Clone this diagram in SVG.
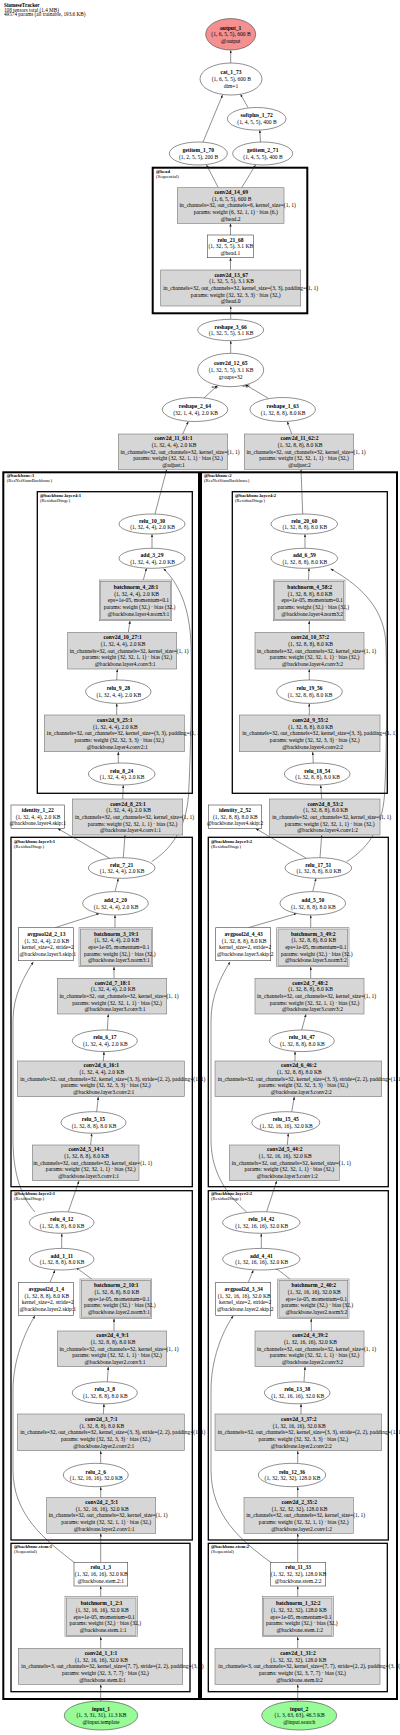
<svg xmlns="http://www.w3.org/2000/svg" width="400" height="1735" viewBox="0 0 400 1735">
<defs>
<marker id="ah" markerWidth="3" markerHeight="2.4" refX="3" refY="1.2" orient="auto" markerUnits="userSpaceOnUse"><path d="M0,0 L3,1.2 L0,2.4 Z" fill="#222"/></marker>
<style>
text{font-family:"Liberation Serif",serif;font-size:5.56px;fill:#000;text-anchor:middle}
.b{font-weight:bold}
.cl{font-size:4.7px;text-anchor:start}
.ttl{font-size:5.2px;text-anchor:start}
.elab{font-size:4px;text-anchor:start}
.c1{fill:none;stroke:#000;stroke-width:2}
.c2{fill:none;stroke:#000;stroke-width:1.3}
.p{fill:#d6d6d6;stroke:#777;stroke-width:0.6}
.po{fill:none;stroke:#777;stroke-width:0.6}
.w{fill:#fff;stroke:#444;stroke-width:0.6}
.ed{fill:none;stroke:#222;stroke-width:0.5;marker-end:url(#ah)}
</style>
</defs>
<rect width="400" height="1735" fill="#fff"/>
<g id="title">
<text class="ttl b" x="4" y="6.8">SiameseTracker</text>
<text class="ttl" x="4" y="11.5">108 tensors total (1.4 MB)</text>
<text class="ttl" x="4" y="16.2">49574 params (all trainable, 193.6 KB)</text>
</g>
<g id="clusters">
<g id="cl_head"><rect class="c1" x="152.7" y="167.7" width="154.6" height="145.6"/><text class="cl b" x="156" y="173.4">@head</text><text class="cl" x="156" y="178.4">(Sequential)</text></g>
<g id="cl_backbone1"><rect class="c1" x="3.3" y="472.3" width="195.7" height="1226.7"/><text class="cl b" x="6.7" y="476.7">@backbone:1</text><text class="cl" x="6.7" y="481.7">(ResNetSiamBackbone)</text></g>
<g id="cl_backbone2"><rect class="c1" x="201" y="472.3" width="196" height="1226.7"/><text class="cl b" x="204" y="476.7">@backbone:2</text><text class="cl" x="204" y="481.7">(ResNetSiamBackbone)</text></g>
<g id="cl_layer4_1"><rect class="c2" x="37.3" y="491.7" width="155" height="301.6"/><text class="cl b" x="40" y="496.7">@backbone.layer4:1</text><text class="cl" x="40" y="501.7">(ResidualStage)</text></g>
<g id="cl_layer4_2"><rect class="c2" x="232.3" y="491.7" width="155" height="301.6"/><text class="cl b" x="235" y="496.7">@backbone.layer4:2</text><text class="cl" x="235" y="501.7">(ResidualStage)</text></g>
<g id="cl_layer3_1"><rect class="c2" x="11" y="837.3" width="181.3" height="349.4"/><text class="cl b" x="14" y="842.7">@backbone.layer3:1</text><text class="cl" x="14" y="847.7">(ResidualStage)</text></g>
<g id="cl_layer3_2"><rect class="c2" x="208.3" y="837.3" width="180" height="349.4"/><text class="cl b" x="211" y="842.7">@backbone.layer3:2</text><text class="cl" x="211" y="847.7">(ResidualStage)</text></g>
<g id="cl_layer2_1"><rect class="c2" x="11" y="1190.7" width="181.3" height="349.3"/><text class="cl b" x="14" y="1195">@backbone.layer2:1</text><text class="cl" x="14" y="1200">(ResidualStage)</text></g>
<g id="cl_layer2_2"><rect class="c2" x="208.3" y="1190.7" width="180" height="349.3"/><text class="cl b" x="211" y="1195">@backbone.layer2:2</text><text class="cl" x="211" y="1200">(ResidualStage)</text></g>
<g id="cl_stem_1"><rect class="c2" x="11" y="1543.3" width="179" height="148.4"/><text class="cl b" x="14" y="1547.7">@backbone.stem:1</text><text class="cl" x="14" y="1552.7">(Sequential)</text></g>
<g id="cl_stem_2"><rect class="c2" x="208.3" y="1543.3" width="179" height="148.4"/><text class="cl b" x="211" y="1547.7">@backbone.stem:2</text><text class="cl" x="211" y="1552.7">(Sequential)</text></g>
</g>
<g id="edges">
<path class="ed" d="M230.7,63 L230.7,50.2"/>
<path class="ed" d="M248,107.6 L240.5,94.2"/>
<path class="ed" d="M203,142.1 L222.5,95"/>
<path class="ed" d="M260.5,142 L259.8,130.2"/>
<path class="ed" d="M218.3,187.7 L206.5,165"/>
<path class="ed" d="M241.7,187.7 L255.5,165"/>
<path class="ed" d="M230.5,235 L230.5,223.5"/>
<path class="ed" d="M230.5,270 L230.5,257.8"/>
<path class="ed" d="M230.7,319.3 L230.7,306.2"/>
<path class="ed" d="M230.7,353.3 L230.7,340.8"/>
<path class="ed" d="M204,398 L217.5,385.5"/>
<path class="ed" d="M268.3,398.3 L245,384.5"/>
<path class="ed" d="M182.7,434 L188.3,421.6"/>
<path class="ed" d="M291.7,434 L287.3,421.6"/>
<path class="ed" d="M155,514 L166.7,469.5"/>
<path class="ed" d="M302.7,514 L301,469.5"/>
<path class="ed" d="M152,548.3 L152,534.2"/>
<path class="ed" d="M305,548.3 L305,534.2"/>
<path class="ed" d="M143.3,580 L146.5,568.3"/>
<path class="ed" d="M308.5,580 L309,568.3"/>
<path class="ed" d="M151.7,861.5 C170,850 186,830 188.5,795 C191,750 192,680 191,645 C190,615 183,588 163.5,568.6"/>
<path class="ed" d="M346.7,861.5 C366,850 382,830 384.5,795 C387,750 387,680 386,645 C385,612 365,588 330.5,568.8"/>
<path class="ed" d="M116.7,680 L117.3,669.2"/>
<path class="ed" d="M128.3,632.3 L130,620.9"/>
<path class="ed" d="M116.7,715 L116.7,703.5"/>
<path class="ed" d="M118.3,763 L118.3,751.9"/>
<path class="ed" d="M122.7,799 L123.3,785.2"/>
<path class="ed" d="M123.3,857.7 L125,835.2"/>
<path class="ed" d="M110,858.5 L57.7,828.5"/>
<path class="ed" d="M115,891.6 L118.3,878.5"/>
<path class="ed" d="M115,927.7 L115,915.2"/>
<path class="ed" d="M55,927.7 L99.3,913.5"/>
<path class="ed" d="M114,978.3 L114,966.9"/>
<path class="ed" d="M107.3,1030 L108.3,1014.2"/>
<path class="ed" d="M103.3,1061 L104,1051.8"/>
<path class="ed" d="M96.7,1111.7 L98.3,1096.9"/>
<path class="ed" d="M90.7,1145 L91.7,1133.5"/>
<path class="ed" d="M68.3,1211.7 L79,1180.9"/>
<path class="ed" d="M35,1212 C22,1198 13,1175 13,1140 L13,1020 C13,995 25,975 33.3,961.9"/>
<path class="ed" d="M61.7,1248.4 L61.7,1233.5"/>
<path class="ed" d="M50,1282.5 L55,1270.2"/>
<path class="ed" d="M91.7,1279 L76,1267.5"/>
<path class="ed" d="M114,1331 L114,1318.7"/>
<path class="ed" d="M107.3,1381.8 L108.3,1366.9"/>
<path class="ed" d="M103.3,1414 L104,1404"/>
<path class="ed" d="M100.7,1463.3 L100.7,1450.9"/>
<path class="ed" d="M100.7,1497.7 L100.7,1486.9"/>
<path class="ed" d="M100.7,1562.3 L100.7,1533.5"/>
<path class="ed" d="M75,1563 C45,1540 13,1515 13,1470 L13,1390 C13,1360 25,1332 35,1315.7"/>
<path class="ed" d="M100.7,1596.7 L100.7,1586.2"/>
<path class="ed" d="M100.7,1648.3 L100.7,1636.9"/>
<path class="ed" d="M100.7,1701 L100.7,1684.5"/>
<path class="ed" d="M309.3,680 L309.3,669.2"/>
<path class="ed" d="M309.3,632.3 L309.3,620.9"/>
<path class="ed" d="M309.3,715 L309.3,703.5"/>
<path class="ed" d="M313.3,763 L312.7,751.9"/>
<path class="ed" d="M321.7,799 L320.7,785.2"/>
<path class="ed" d="M320,857.7 L321.7,835.2"/>
<path class="ed" d="M306.7,858.5 L255.7,828.5"/>
<path class="ed" d="M312.7,891.6 L316,878.5"/>
<path class="ed" d="M310.7,927.7 L310.7,915.2"/>
<path class="ed" d="M248.3,927.7 L296.7,913.5"/>
<path class="ed" d="M310.7,978.3 L310.7,966.9"/>
<path class="ed" d="M301.7,1030 L306,1014.2"/>
<path class="ed" d="M295,1061 L295,1051.6"/>
<path class="ed" d="M291.7,1111.7 L294.3,1096.9"/>
<path class="ed" d="M287.3,1145 L288.3,1133.5"/>
<path class="ed" d="M266.7,1211.7 L276.7,1180.9"/>
<path class="ed" d="M246.7,1212 C230,1198 211,1175 211,1140 L211,1020 C211,995 222,975 230,961.9"/>
<path class="ed" d="M261.3,1248.4 L261.3,1233.5"/>
<path class="ed" d="M248.3,1282.5 L253.3,1270.2"/>
<path class="ed" d="M290,1279 L275,1267.5"/>
<path class="ed" d="M311.3,1331 L311.3,1318.7"/>
<path class="ed" d="M304,1381.8 L305,1366.9"/>
<path class="ed" d="M301,1414 L301,1404"/>
<path class="ed" d="M297.7,1463.3 L297.7,1450.9"/>
<path class="ed" d="M297.7,1497.7 L297.7,1486.9"/>
<path class="ed" d="M297.7,1562.3 L297.7,1533.5"/>
<path class="ed" d="M271.7,1563 C240,1540 211,1515 211,1470 L211,1390 C211,1360 222,1332 233.3,1315.7"/>
<path class="ed" d="M297.7,1596.7 L297.7,1586.2"/>
<path class="ed" d="M297.7,1648.3 L297.7,1636.9"/>
<path class="ed" d="M297.7,1701 L297.7,1684.5"/>
<text class="elab" x="211.5" y="388">arg1</text>
<text class="elab" x="242.5" y="386.5">arg0</text>
</g>
<g id="nodes">
<g id="output_1"><ellipse cx="230.7" cy="34.3" rx="25" ry="15.7" fill="#f49090" stroke="#444" stroke-width="0.6"/><text y="29.5"><tspan class="b" x="230.7">output_1</tspan><tspan x="231" dy="6.67">(1, 6, 5, 5), 600 B</tspan><tspan x="230.7" dy="6.67">@output</tspan></text></g>
<g id="cat_1_73"><ellipse class="w" cx="231" cy="79" rx="31" ry="16"/><text y="74.2"><tspan class="b" x="231">cat_1_73</tspan><tspan x="231.3" dy="6.67">(1, 6, 5, 5), 600 B</tspan><tspan x="231" dy="6.67">dim=1</tspan></text></g>
<g id="softplus_1_72"><ellipse class="w" cx="256.7" cy="118.8" rx="29.3" ry="11.3"/><text y="117.4"><tspan class="b" x="256.7">softplus_1_72</tspan><tspan x="257" dy="6.67">(1, 4, 5, 5), 400 B</tspan></text></g>
<g id="getitem_1_70"><ellipse class="w" cx="198.3" cy="153.5" rx="29" ry="11.5"/><text y="152.1"><tspan class="b" x="198.3">getitem_1_70</tspan><tspan x="198.6" dy="6.67">(1, 2, 5, 5), 200 B</tspan></text></g>
<g id="getitem_2_71"><ellipse class="w" cx="262.7" cy="153.5" rx="30" ry="11.5"/><text y="152.1"><tspan class="b" x="262.7">getitem_2_71</tspan><tspan x="263" dy="6.67">(1, 4, 5, 5), 400 B</tspan></text></g>
<g id="conv2d_14_69"><rect class="p" x="177.3" y="187.7" width="106.7" height="35.6"/><text y="194.1"><tspan class="b" x="231.2">conv2d_14_69</tspan><tspan x="231.7" dy="6.67">(1, 6, 5, 5), 600 B</tspan><tspan x="237.7" dy="6.67">in_channels=32, out_channels=6, kernel_size=(1, 1)</tspan><tspan x="235.7" dy="6.67">params: weight (6, 32, 1, 1) · bias (6,)</tspan><tspan x="230.7" dy="6.67">@head.2</tspan></text></g>
<g id="relu_21_68"><rect class="w" x="207.3" y="235" width="46" height="22.7"/><text y="241.5"><tspan class="b" x="230.5">relu_21_68</tspan><tspan x="230.8" dy="6.67">(1, 32, 5, 5), 3.1 KB</tspan><tspan x="230.3" dy="6.67">@head.1</tspan></text></g>
<g id="conv2d_13_67"><rect class="p" x="160.7" y="270" width="140" height="36"/><text y="276.6"><tspan class="b" x="231.2">conv2d_13_67</tspan><tspan x="231.7" dy="6.67">(1, 32, 5, 5), 3.1 KB</tspan><tspan x="240.7" dy="6.67">in_channels=32, out_channels=32, kernel_size=(3, 3), padding=(1, 1)</tspan><tspan x="235.7" dy="6.67">params: weight (32, 32, 3, 3) · bias (32,)</tspan><tspan x="230.7" dy="6.67">@head.0</tspan></text></g>
<g id="reshape_3_66"><ellipse class="w" cx="230.7" cy="330" rx="33" ry="10.7"/><text y="328.6"><tspan class="b" x="230.7">reshape_3_66</tspan><tspan x="231" dy="6.67">(1, 32, 5, 5), 3.1 KB</tspan></text></g>
<g id="conv2d_12_65"><ellipse class="w" cx="230.7" cy="370" rx="33" ry="16.7"/><text y="365.2"><tspan class="b" x="230.7">conv2d_12_65</tspan><tspan x="231" dy="6.67">(1, 32, 5, 5), 3.1 KB</tspan><tspan x="230.7" dy="6.67">groups=32</tspan></text></g>
<g id="reshape_2_64"><ellipse class="w" cx="195" cy="409.5" rx="32.7" ry="12"/><text y="408.1"><tspan class="b" x="195">reshape_2_64</tspan><tspan x="195.5" dy="6.67">(32, 1, 4, 4), 2.0 KB</tspan></text></g>
<g id="reshape_1_63"><ellipse class="w" cx="282.7" cy="409.5" rx="32.7" ry="12"/><text y="408.1"><tspan class="b" x="282.7">reshape_1_63</tspan><tspan x="283.2" dy="6.67">(1, 32, 8, 8), 8.0 KB</tspan></text></g>
<g id="conv2d_11_61_1"><rect class="p" x="118.3" y="434" width="109.4" height="35.3"/><text y="440.3"><tspan class="b" x="173.5">conv2d_11_61:1</tspan><tspan x="174" dy="6.67">(1, 32, 4, 4), 2.0 KB</tspan><tspan x="180" dy="6.67">in_channels=32, out_channels=32, kernel_size=(1, 1)</tspan><tspan x="178" dy="6.67">params: weight (32, 32, 1, 1) · bias (32,)</tspan><tspan x="173.5" dy="6.67">@adjust:1</tspan></text></g>
<g id="conv2d_11_62_2"><rect class="p" x="244.3" y="434" width="109.4" height="35.3"/><text y="440.3"><tspan class="b" x="299.5">conv2d_11_62:2</tspan><tspan x="300" dy="6.67">(1, 32, 8, 8), 8.0 KB</tspan><tspan x="306" dy="6.67">in_channels=32, out_channels=32, kernel_size=(1, 1)</tspan><tspan x="304" dy="6.67">params: weight (32, 32, 1, 1) · bias (32,)</tspan><tspan x="299.5" dy="6.67">@adjust:2</tspan></text></g>

<g id="relu_10_30"><ellipse class="w" cx="152" cy="524" rx="33" ry="10"/><text y="522.6"><tspan class="b" x="152">relu_10_30</tspan><tspan x="152.5" dy="6.67">(1, 32, 4, 4), 2.0 KB</tspan></text></g>
<g id="add_3_29"><ellipse class="w" cx="152" cy="558.3" rx="33" ry="10"/><text y="556.9"><tspan class="b" x="152">add_3_29</tspan><tspan x="152.5" dy="6.67">(1, 32, 4, 4), 2.0 KB</tspan></text></g>
<g id="batchnorm_4_28_1"><rect class="po" x="99.3" y="580" width="72.4" height="40.7"/><rect class="p" x="100.6" y="581.3" width="69.8" height="38.1"/><text y="588.9"><tspan class="b" x="136">batchnorm_4_28:1</tspan><tspan x="136.5" dy="6.67">(1, 32, 4, 4), 2.0 KB</tspan><tspan x="138.5" dy="6.67">eps=1e-05, momentum=0.1</tspan><tspan x="139.5" dy="6.67">params: weight (32,) · bias (32,)</tspan><tspan x="138.5" dy="6.67">@backbone.layer4.norm3:1</tspan></text></g>
<g id="conv2d_10_27_1"><rect class="p" x="67.7" y="632.3" width="109" height="36.7"/><text y="639.3"><tspan class="b" x="122.7">conv2d_10_27:1</tspan><tspan x="123.2" dy="6.67">(1, 32, 4, 4), 2.0 KB</tspan><tspan x="129.2" dy="6.67">in_channels=32, out_channels=32, kernel_size=(1, 1)</tspan><tspan x="127.2" dy="6.67">params: weight (32, 32, 1, 1) · bias (32,)</tspan><tspan x="125.2" dy="6.67">@backbone.layer4.conv3:1</tspan></text></g>
<g id="relu_9_28"><ellipse class="w" cx="118.3" cy="691.7" rx="32.7" ry="11.7"/><text y="690.3"><tspan class="b" x="118.3">relu_9_28</tspan><tspan x="118.8" dy="6.67">(1, 32, 4, 4), 2.0 KB</tspan></text></g>
<g id="conv2d_9_25_1"><rect class="p" x="44.3" y="715" width="140" height="36.7"/><text y="721.9"><tspan class="b" x="114.8">conv2d_9_25:1</tspan><tspan x="115.3" dy="6.67">(1, 32, 4, 4), 2.0 KB</tspan><tspan x="124.3" dy="6.67">in_channels=32, out_channels=32, kernel_size=(3, 3), padding=(1, 1)</tspan><tspan x="119.3" dy="6.67">params: weight (32, 32, 3, 3) · bias (32,)</tspan><tspan x="117.3" dy="6.67">@backbone.layer4.conv2:1</tspan></text></g>
<g id="relu_8_24"><ellipse class="w" cx="121.7" cy="774" rx="33.3" ry="11"/><text y="772.6"><tspan class="b" x="121.7">relu_8_24</tspan><tspan x="122.2" dy="6.67">(1, 32, 4, 4), 2.0 KB</tspan></text></g>
<g id="conv2d_8_23_1"><rect class="p" x="72.3" y="799" width="110.4" height="36"/><text y="805.6"><tspan class="b" x="128">conv2d_8_23:1</tspan><tspan x="128.5" dy="6.67">(1, 32, 4, 4), 2.0 KB</tspan><tspan x="134.5" dy="6.67">in_channels=32, out_channels=32, kernel_size=(1, 1)</tspan><tspan x="132.5" dy="6.67">params: weight (32, 32, 1, 1) · bias (32,)</tspan><tspan x="130.5" dy="6.67">@backbone.layer4.conv1:1</tspan></text></g>
<g id="identity_1_22"><rect class="w" x="11" y="805" width="53.3" height="23.3"/><text y="811.9"><tspan class="b" x="37.7">identity_1_22</tspan><tspan x="38" dy="6.67">(1, 32, 4, 4), 2.0 KB</tspan><tspan x="37.7" dy="6.67">@backbone.layer4.skip:1</tspan></text></g>

<g id="relu_7_21"><ellipse class="w" cx="121.7" cy="868" rx="33.3" ry="10.3"/><text y="866.6"><tspan class="b" x="121.7">relu_7_21</tspan><tspan x="122.2" dy="6.67">(1, 32, 4, 4), 2.0 KB</tspan></text></g>
<g id="add_2_20"><ellipse class="w" cx="115.5" cy="903.3" rx="32.8" ry="11.7"/><text y="901.9"><tspan class="b" x="115.5">add_2_20</tspan><tspan x="116" dy="6.67">(1, 32, 4, 4), 2.0 KB</tspan></text></g>
<g id="avgpool2d_2_13"><rect class="w" x="18.3" y="927.7" width="55" height="33"/><text y="936.1"><tspan class="b" x="46.3">avgpool2d_2_13</tspan><tspan x="46.8" dy="6.67">(1, 32, 4, 4), 2.0 KB</tspan><tspan x="47.8" dy="6.67">kernel_size=2, stride=2</tspan><tspan x="47.8" dy="6.67">@backbone.layer3.skip:1</tspan></text></g>
<g id="batchnorm_3_19_1"><rect class="po" x="79" y="927.7" width="73.7" height="39"/><rect class="p" x="80.3" y="929" width="71.1" height="36.4"/><text y="935.8"><tspan class="b" x="116.3">batchnorm_3_19:1</tspan><tspan x="116.8" dy="6.67">(1, 32, 4, 4), 2.0 KB</tspan><tspan x="118.8" dy="6.67">eps=1e-05, momentum=0.1</tspan><tspan x="119.8" dy="6.67">params: weight (32,) · bias (32,)</tspan><tspan x="118.8" dy="6.67">@backbone.layer3.norm3:1</tspan></text></g>
<g id="conv2d_7_18_1"><rect class="p" x="57.3" y="978.3" width="109.4" height="35.7"/><text y="984.8"><tspan class="b" x="112.5">conv2d_7_18:1</tspan><tspan x="113" dy="6.67">(1, 32, 4, 4), 2.0 KB</tspan><tspan x="119" dy="6.67">in_channels=32, out_channels=32, kernel_size=(1, 1)</tspan><tspan x="117" dy="6.67">params: weight (32, 32, 1, 1) · bias (32,)</tspan><tspan x="115" dy="6.67">@backbone.layer3.conv3:1</tspan></text></g>
<g id="relu_6_17"><ellipse class="w" cx="104.8" cy="1040.8" rx="32.5" ry="10.8"/><text y="1039.4"><tspan class="b" x="104.8">relu_6_17</tspan><tspan x="105.3" dy="6.67">(1, 32, 4, 4), 2.0 KB</tspan></text></g>
<g id="conv2d_6_16_1"><rect class="p" x="17.3" y="1061" width="167" height="35.7"/><text y="1067.4"><tspan class="b" x="101.3">conv2d_6_16:1</tspan><tspan x="101.8" dy="6.67">(1, 32, 4, 4), 2.0 KB</tspan><tspan x="112.8" dy="6.67">in_channels=32, out_channels=32, kernel_size=(3, 3), stride=(2, 2), padding=(1, 1)</tspan><tspan x="105.8" dy="6.67">params: weight (32, 32, 3, 3) · bias (32,)</tspan><tspan x="103.8" dy="6.67">@backbone.layer3.conv2:1</tspan></text></g>
<g id="relu_5_15"><ellipse class="w" cx="93.5" cy="1122.5" rx="32.5" ry="10.8"/><text y="1121.1"><tspan class="b" x="93.5">relu_5_15</tspan><tspan x="94" dy="6.67">(1, 32, 8, 8), 8.0 KB</tspan></text></g>
<g id="conv2d_5_14_1"><rect class="p" x="32.3" y="1145" width="106.7" height="35.7"/><text y="1151.4"><tspan class="b" x="86.2">conv2d_5_14:1</tspan><tspan x="86.7" dy="6.67">(1, 32, 8, 8), 8.0 KB</tspan><tspan x="92.7" dy="6.67">in_channels=32, out_channels=32, kernel_size=(1, 1)</tspan><tspan x="90.7" dy="6.67">params: weight (32, 32, 1, 1) · bias (32,)</tspan><tspan x="88.7" dy="6.67">@backbone.layer3.conv1:1</tspan></text></g>

<g id="relu_4_12"><ellipse class="w" cx="61.7" cy="1222.5" rx="32.3" ry="10.8"/><text y="1221.1"><tspan class="b" x="61.7">relu_4_12</tspan><tspan x="62.2" dy="6.67">(1, 32, 8, 8), 8.0 KB</tspan></text></g>
<g id="add_1_11"><ellipse class="w" cx="61.7" cy="1259.2" rx="32.3" ry="10.8"/><text y="1257.8"><tspan class="b" x="61.7">add_1_11</tspan><tspan x="62.2" dy="6.67">(1, 32, 8, 8), 8.0 KB</tspan></text></g>
<g id="avgpool2d_1_4"><rect class="w" x="18.3" y="1282.5" width="55" height="33"/><text y="1290.9"><tspan class="b" x="46.3">avgpool2d_1_4</tspan><tspan x="46.8" dy="6.67">(1, 32, 8, 8), 8.0 KB</tspan><tspan x="47.8" dy="6.67">kernel_size=2, stride=2</tspan><tspan x="47.8" dy="6.67">@backbone.layer2.skip:1</tspan></text></g>
<g id="batchnorm_2_10_1"><rect class="po" x="80" y="1279" width="71.7" height="39.5"/><rect class="p" x="81.3" y="1280.3" width="69.1" height="36.9"/><text y="1287.3"><tspan class="b" x="116.3">batchnorm_2_10:1</tspan><tspan x="116.8" dy="6.67">(1, 32, 8, 8), 8.0 KB</tspan><tspan x="118.8" dy="6.67">eps=1e-05, momentum=0.1</tspan><tspan x="119.8" dy="6.67">params: weight (32,) · bias (32,)</tspan><tspan x="118.8" dy="6.67">@backbone.layer2.norm3:1</tspan></text></g>
<g id="conv2d_4_9_1"><rect class="p" x="57.3" y="1331" width="109.4" height="35.7"/><text y="1337.4"><tspan class="b" x="112.5">conv2d_4_9:1</tspan><tspan x="113" dy="6.67">(1, 32, 8, 8), 8.0 KB</tspan><tspan x="119" dy="6.67">in_channels=32, out_channels=32, kernel_size=(1, 1)</tspan><tspan x="117" dy="6.67">params: weight (32, 32, 1, 1) · bias (32,)</tspan><tspan x="115" dy="6.67">@backbone.layer2.conv3:1</tspan></text></g>
<g id="relu_3_8"><ellipse class="w" cx="104.8" cy="1392.8" rx="32.5" ry="11"/><text y="1391.4"><tspan class="b" x="104.8">relu_3_8</tspan><tspan x="105.3" dy="6.67">(1, 32, 8, 8), 8.0 KB</tspan></text></g>
<g id="conv2d_3_7_1"><rect class="p" x="17.3" y="1414" width="167" height="36.7"/><text y="1420.9"><tspan class="b" x="101.3">conv2d_3_7:1</tspan><tspan x="101.8" dy="6.67">(1, 32, 8, 8), 8.0 KB</tspan><tspan x="112.8" dy="6.67">in_channels=32, out_channels=32, kernel_size=(3, 3), stride=(2, 2), padding=(1, 1)</tspan><tspan x="105.8" dy="6.67">params: weight (32, 32, 3, 3) · bias (32,)</tspan><tspan x="103.8" dy="6.67">@backbone.layer2.conv2:1</tspan></text></g>
<g id="relu_2_6"><ellipse class="w" cx="95.8" cy="1475" rx="32.5" ry="11.7"/><text y="1473.6"><tspan class="b" x="95.8">relu_2_6</tspan><tspan x="96.3" dy="6.67">(1, 32, 16, 16), 32.0 KB</tspan></text></g>
<g id="conv2d_2_5_1"><rect class="p" x="46.7" y="1497.7" width="109" height="35.6"/><text y="1504.1"><tspan class="b" x="101.7">conv2d_2_5:1</tspan><tspan x="102.2" dy="6.67">(1, 32, 16, 16), 32.0 KB</tspan><tspan x="108.2" dy="6.67">in_channels=32, out_channels=32, kernel_size=(1, 1)</tspan><tspan x="106.2" dy="6.67">params: weight (32, 32, 1, 1) · bias (32,)</tspan><tspan x="104.2" dy="6.67">@backbone.layer2.conv1:1</tspan></text></g>
<g id="relu_1_3"><rect class="w" x="74" y="1562.3" width="53.7" height="23.7"/><text y="1569.4"><tspan class="b" x="100.8">relu_1_3</tspan><tspan x="101.3" dy="6.67">(1, 32, 16, 16), 32.0 KB</tspan><tspan x="100.8" dy="6.67">@backbone.stem.2:1</tspan></text></g>
<g id="batchnorm_1_2_1"><rect class="po" x="65" y="1596.7" width="72.3" height="40"/><rect class="p" x="66.3" y="1598" width="69.7" height="37.4"/><text y="1605.3"><tspan class="b" x="101.7">batchnorm_1_2:1</tspan><tspan x="102.2" dy="6.67">(1, 32, 16, 16), 32.0 KB</tspan><tspan x="104.2" dy="6.67">eps=1e-05, momentum=0.1</tspan><tspan x="105.2" dy="6.67">params: weight (32,) · bias (32,)</tspan><tspan x="103.2" dy="6.67">@backbone.stem.1:1</tspan></text></g>
<g id="conv2d_1_1_1"><rect class="p" x="18.3" y="1648.3" width="164.4" height="36"/><text y="1654.9"><tspan class="b" x="101">conv2d_1_1:1</tspan><tspan x="101.5" dy="6.67">(1, 32, 16, 16), 32.0 KB</tspan><tspan x="112.5" dy="6.67">in_channels=3, out_channels=32, kernel_size=(7, 7), stride=(2, 2), padding=(3, 3)</tspan><tspan x="105.5" dy="6.67">params: weight (32, 3, 7, 7) · bias (32,)</tspan><tspan x="102.5" dy="6.67">@backbone.stem.0:1</tspan></text></g>
<g id="input_1"><ellipse cx="101" cy="1715.5" rx="36.7" ry="14.5" fill="#98fb98" stroke="#444" stroke-width="0.6"/><text y="1710.7"><tspan class="b" x="101">input_1</tspan><tspan x="101.5" dy="6.67">(1, 3, 31, 31), 11.3 KB</tspan><tspan x="101" dy="6.67">@input.template</tspan></text></g>

<g id="relu_20_60"><ellipse class="w" cx="304.3" cy="524" rx="33.3" ry="10"/><text y="522.6"><tspan class="b" x="304.3">relu_20_60</tspan><tspan x="304.8" dy="6.67">(1, 32, 8, 8), 8.0 KB</tspan></text></g>
<g id="add_6_59"><ellipse class="w" cx="304.3" cy="558.3" rx="33.3" ry="10"/><text y="556.9"><tspan class="b" x="304.3">add_6_59</tspan><tspan x="304.8" dy="6.67">(1, 32, 8, 8), 8.0 KB</tspan></text></g>
<g id="batchnorm_4_58_2"><rect class="po" x="273.3" y="580" width="71.7" height="40.7"/><rect class="p" x="274.6" y="581.3" width="69.1" height="38.1"/><text y="588.9"><tspan class="b" x="309.7">batchnorm_4_58:2</tspan><tspan x="310.2" dy="6.67">(1, 32, 8, 8), 8.0 KB</tspan><tspan x="312.2" dy="6.67">eps=1e-05, momentum=0.1</tspan><tspan x="313.2" dy="6.67">params: weight (32,) · bias (32,)</tspan><tspan x="312.2" dy="6.67">@backbone.layer4.norm3:2</tspan></text></g>
<g id="conv2d_10_57_2"><rect class="p" x="255" y="632.3" width="109" height="36.7"/><text y="639.3"><tspan class="b" x="310">conv2d_10_57:2</tspan><tspan x="310.5" dy="6.67">(1, 32, 8, 8), 8.0 KB</tspan><tspan x="316.5" dy="6.67">in_channels=32, out_channels=32, kernel_size=(1, 1)</tspan><tspan x="314.5" dy="6.67">params: weight (32, 32, 1, 1) · bias (32,)</tspan><tspan x="312.5" dy="6.67">@backbone.layer4.conv3:2</tspan></text></g>
<g id="relu_19_56"><ellipse class="w" cx="309.5" cy="691.7" rx="32.8" ry="11.7"/><text y="690.3"><tspan class="b" x="309.5">relu_19_56</tspan><tspan x="310" dy="6.67">(1, 32, 8, 8), 8.0 KB</tspan></text></g>
<g id="conv2d_9_55_2"><rect class="p" x="239.3" y="715" width="140.7" height="36.7"/><text y="721.9"><tspan class="b" x="310.2">conv2d_9_55:2</tspan><tspan x="310.7" dy="6.67">(1, 32, 8, 8), 8.0 KB</tspan><tspan x="319.7" dy="6.67">in_channels=32, out_channels=32, kernel_size=(3, 3), padding=(1, 1)</tspan><tspan x="314.7" dy="6.67">params: weight (32, 32, 3, 3) · bias (32,)</tspan><tspan x="312.7" dy="6.67">@backbone.layer4.conv2:2</tspan></text></g>
<g id="relu_18_54"><ellipse class="w" cx="317.2" cy="774" rx="32.8" ry="11"/><text y="772.6"><tspan class="b" x="317.2">relu_18_54</tspan><tspan x="317.7" dy="6.67">(1, 32, 8, 8), 8.0 KB</tspan></text></g>
<g id="conv2d_8_53_2"><rect class="p" x="269.3" y="799" width="110.7" height="36"/><text y="805.6"><tspan class="b" x="325.2">conv2d_8_53:2</tspan><tspan x="325.7" dy="6.67">(1, 32, 8, 8), 8.0 KB</tspan><tspan x="331.7" dy="6.67">in_channels=32, out_channels=32, kernel_size=(1, 1)</tspan><tspan x="329.7" dy="6.67">params: weight (32, 32, 1, 1) · bias (32,)</tspan><tspan x="327.7" dy="6.67">@backbone.layer4.conv1:2</tspan></text></g>
<g id="identity_2_52"><rect class="w" x="208.3" y="805" width="53.4" height="23.3"/><text y="811.9"><tspan class="b" x="235">identity_2_52</tspan><tspan x="235.3" dy="6.67">(1, 32, 8, 8), 8.0 KB</tspan><tspan x="235" dy="6.67">@backbone.layer4.skip:2</tspan></text></g>

<g id="relu_17_51"><ellipse class="w" cx="318.3" cy="868" rx="33.3" ry="10.3"/><text y="866.6"><tspan class="b" x="318.3">relu_17_51</tspan><tspan x="318.8" dy="6.67">(1, 32, 8, 8), 8.0 KB</tspan></text></g>
<g id="add_5_50"><ellipse class="w" cx="312.8" cy="903.3" rx="32.8" ry="11.7"/><text y="901.9"><tspan class="b" x="312.8">add_5_50</tspan><tspan x="313.3" dy="6.67">(1, 32, 8, 8), 8.0 KB</tspan></text></g>
<g id="avgpool2d_4_43"><rect class="w" x="215.7" y="927.7" width="55" height="33"/><text y="936.1"><tspan class="b" x="243.7">avgpool2d_4_43</tspan><tspan x="244.2" dy="6.67">(1, 32, 8, 8), 8.0 KB</tspan><tspan x="245.2" dy="6.67">kernel_size=2, stride=2</tspan><tspan x="245.2" dy="6.67">@backbone.layer3.skip:2</tspan></text></g>
<g id="batchnorm_3_49_2"><rect class="po" x="276.7" y="927.7" width="72.3" height="39"/><rect class="p" x="278" y="929" width="69.7" height="36.4"/><text y="935.8"><tspan class="b" x="313.3">batchnorm_3_49:2</tspan><tspan x="313.8" dy="6.67">(1, 32, 8, 8), 8.0 KB</tspan><tspan x="315.8" dy="6.67">eps=1e-05, momentum=0.1</tspan><tspan x="316.8" dy="6.67">params: weight (32,) · bias (32,)</tspan><tspan x="315.8" dy="6.67">@backbone.layer3.norm3:2</tspan></text></g>
<g id="conv2d_7_48_2"><rect class="p" x="255" y="978.3" width="109" height="35.7"/><text y="984.8"><tspan class="b" x="310">conv2d_7_48:2</tspan><tspan x="310.5" dy="6.67">(1, 32, 8, 8), 8.0 KB</tspan><tspan x="316.5" dy="6.67">in_channels=32, out_channels=32, kernel_size=(1, 1)</tspan><tspan x="314.5" dy="6.67">params: weight (32, 32, 1, 1) · bias (32,)</tspan><tspan x="312.5" dy="6.67">@backbone.layer3.conv3:2</tspan></text></g>
<g id="relu_16_47"><ellipse class="w" cx="301.8" cy="1040.8" rx="32.5" ry="10.8"/><text y="1039.4"><tspan class="b" x="301.8">relu_16_47</tspan><tspan x="302.3" dy="6.67">(1, 32, 8, 8), 8.0 KB</tspan></text></g>
<g id="conv2d_6_46_2"><rect class="p" x="215" y="1061" width="166.7" height="35.7"/><text y="1067.4"><tspan class="b" x="298.8">conv2d_6_46:2</tspan><tspan x="299.3" dy="6.67">(1, 32, 8, 8), 8.0 KB</tspan><tspan x="310.3" dy="6.67">in_channels=32, out_channels=32, kernel_size=(3, 3), stride=(2, 2), padding=(1, 1)</tspan><tspan x="303.3" dy="6.67">params: weight (32, 32, 3, 3) · bias (32,)</tspan><tspan x="301.3" dy="6.67">@backbone.layer3.conv2:2</tspan></text></g>
<g id="relu_15_45"><ellipse class="w" cx="285.8" cy="1122.5" rx="34" ry="10.8"/><text y="1121.1"><tspan class="b" x="285.8">relu_15_45</tspan><tspan x="286.3" dy="6.67">(1, 32, 16, 16), 32.0 KB</tspan></text></g>
<g id="conv2d_5_44_2"><rect class="p" x="229.3" y="1145" width="110" height="35.7"/><text y="1151.4"><tspan class="b" x="284.8">conv2d_5_44:2</tspan><tspan x="285.3" dy="6.67">(1, 32, 16, 16), 32.0 KB</tspan><tspan x="291.3" dy="6.67">in_channels=32, out_channels=32, kernel_size=(1, 1)</tspan><tspan x="289.3" dy="6.67">params: weight (32, 32, 1, 1) · bias (32,)</tspan><tspan x="287.3" dy="6.67">@backbone.layer3.conv1:2</tspan></text></g>

<g id="relu_14_42"><ellipse class="w" cx="261.3" cy="1222.5" rx="38.7" ry="10.8"/><text y="1221.1"><tspan class="b" x="261.3">relu_14_42</tspan><tspan x="261.8" dy="6.67">(1, 32, 16, 16), 32.0 KB</tspan></text></g>
<g id="add_4_41"><ellipse class="w" cx="261.3" cy="1259.2" rx="38.7" ry="10.8"/><text y="1257.8"><tspan class="b" x="261.3">add_4_41</tspan><tspan x="261.8" dy="6.67">(1, 32, 16, 16), 32.0 KB</tspan></text></g>
<g id="avgpool2d_3_34"><rect class="w" x="215.7" y="1282.5" width="55" height="33"/><text y="1290.9"><tspan class="b" x="243.7">avgpool2d_3_34</tspan><tspan x="244.2" dy="6.67">(1, 32, 16, 16), 32.0 KB</tspan><tspan x="245.2" dy="6.67">kernel_size=2, stride=2</tspan><tspan x="245.2" dy="6.67">@backbone.layer2.skip:2</tspan></text></g>
<g id="batchnorm_2_40_2"><rect class="po" x="277.7" y="1279" width="71.3" height="39.5"/><rect class="p" x="279" y="1280.3" width="68.7" height="36.9"/><text y="1287.3"><tspan class="b" x="313.8">batchnorm_2_40:2</tspan><tspan x="314.3" dy="6.67">(1, 32, 16, 16), 32.0 KB</tspan><tspan x="316.3" dy="6.67">eps=1e-05, momentum=0.1</tspan><tspan x="317.3" dy="6.67">params: weight (32,) · bias (32,)</tspan><tspan x="316.3" dy="6.67">@backbone.layer2.norm3:2</tspan></text></g>
<g id="conv2d_4_39_2"><rect class="p" x="255" y="1331" width="109" height="35.7"/><text y="1337.4"><tspan class="b" x="310">conv2d_4_39:2</tspan><tspan x="310.5" dy="6.67">(1, 32, 16, 16), 32.0 KB</tspan><tspan x="316.5" dy="6.67">in_channels=32, out_channels=32, kernel_size=(1, 1)</tspan><tspan x="314.5" dy="6.67">params: weight (32, 32, 1, 1) · bias (32,)</tspan><tspan x="312.5" dy="6.67">@backbone.layer2.conv3:2</tspan></text></g>
<g id="relu_13_38"><ellipse class="w" cx="297.2" cy="1392.8" rx="32.8" ry="11"/><text y="1391.4"><tspan class="b" x="297.2">relu_13_38</tspan><tspan x="297.7" dy="6.67">(1, 32, 16, 16), 32.0 KB</tspan></text></g>
<g id="conv2d_3_37_2"><rect class="p" x="215" y="1414" width="166.7" height="36.7"/><text y="1420.9"><tspan class="b" x="298.8">conv2d_3_37:2</tspan><tspan x="299.3" dy="6.67">(1, 32, 16, 16), 32.0 KB</tspan><tspan x="310.3" dy="6.67">in_channels=32, out_channels=32, kernel_size=(3, 3), stride=(2, 2), padding=(1, 1)</tspan><tspan x="303.3" dy="6.67">params: weight (32, 32, 3, 3) · bias (32,)</tspan><tspan x="301.3" dy="6.67">@backbone.layer2.conv2:2</tspan></text></g>
<g id="relu_12_36"><ellipse class="w" cx="292" cy="1475" rx="33.7" ry="11.7"/><text y="1473.6"><tspan class="b" x="292">relu_12_36</tspan><tspan x="292.5" dy="6.67">(1, 32, 32, 32), 128.0 KB</tspan></text></g>
<g id="conv2d_2_35_2"><rect class="p" x="244" y="1497.7" width="109.3" height="35.6"/><text y="1504.1"><tspan class="b" x="299.2">conv2d_2_35:2</tspan><tspan x="299.7" dy="6.67">(1, 32, 32, 32), 128.0 KB</tspan><tspan x="305.7" dy="6.67">in_channels=32, out_channels=32, kernel_size=(1, 1)</tspan><tspan x="303.7" dy="6.67">params: weight (32, 32, 1, 1) · bias (32,)</tspan><tspan x="301.7" dy="6.67">@backbone.layer2.conv1:2</tspan></text></g>
<g id="relu_11_33"><rect class="w" x="270.7" y="1562.3" width="55" height="23.7"/><text y="1569.4"><tspan class="b" x="298.2">relu_11_33</tspan><tspan x="298.7" dy="6.67">(1, 32, 32, 32), 128.0 KB</tspan><tspan x="298.2" dy="6.67">@backbone.stem.2:2</tspan></text></g>
<g id="batchnorm_1_32_2"><rect class="po" x="262.3" y="1596.7" width="71" height="40"/><rect class="p" x="263.6" y="1598" width="68.4" height="37.4"/><text y="1605.3"><tspan class="b" x="298.3">batchnorm_1_32:2</tspan><tspan x="298.8" dy="6.67">(1, 32, 32, 32), 128.0 KB</tspan><tspan x="300.8" dy="6.67">eps=1e-05, momentum=0.1</tspan><tspan x="301.8" dy="6.67">params: weight (32,) · bias (32,)</tspan><tspan x="299.8" dy="6.67">@backbone.stem.1:2</tspan></text></g>
<g id="conv2d_1_31_2"><rect class="p" x="215" y="1648.3" width="165" height="36"/><text y="1654.9"><tspan class="b" x="298">conv2d_1_31:2</tspan><tspan x="298.5" dy="6.67">(1, 32, 32, 32), 128.0 KB</tspan><tspan x="309.5" dy="6.67">in_channels=3, out_channels=32, kernel_size=(7, 7), stride=(2, 2), padding=(3, 3)</tspan><tspan x="302.5" dy="6.67">params: weight (32, 3, 7, 7) · bias (32,)</tspan><tspan x="299.5" dy="6.67">@backbone.stem.0:2</tspan></text></g>
<g id="input_2"><ellipse cx="299.2" cy="1715.5" rx="37.5" ry="14.5" fill="#98fb98" stroke="#444" stroke-width="0.6"/><text y="1710.7"><tspan class="b" x="299.2">input_2</tspan><tspan x="299.7" dy="6.67">(1, 3, 63, 63), 46.5 KB</tspan><tspan x="299.2" dy="6.67">@input.search</tspan></text></g>
</g>
</svg>
